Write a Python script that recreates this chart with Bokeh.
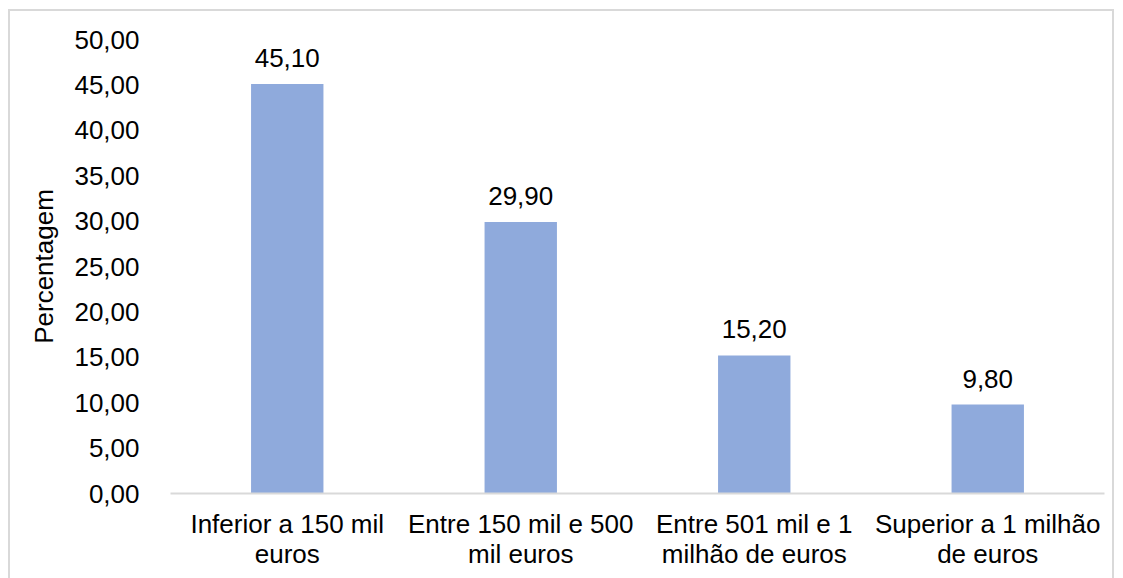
from bokeh.plotting import figure
from bokeh.models import ColumnDataSource, FixedTicker, LabelSet, Range1d
from bokeh.core.properties import value
from bokeh.embed import file_html
from bokeh.resources import INLINE

categories = ["Inferior a 150 mil\neuros", "Entre 150 mil e 500\nmil euros",
              "Entre 501 mil e 1\nmilhão de euros", "Superior a 1 milhão\nde euros"]
values = [45.10, 29.90, 15.20, 9.80]
y_ticks = [0, 5, 10, 15, 20, 25, 30, 35, 40, 45, 50]

def fmt(v):
    return f"{v:.2f}".replace(".", ",")

source = ColumnDataSource(data=dict(cat=categories, val=values, lbl=[fmt(v) for v in values]))

FONT = "Liberation Sans"
FS = "26px"

p = figure(x_range=categories, y_range=Range1d(0, 50), width=1106, height=575,
           output_backend="svg", toolbar_location=None,
           min_border_left=160, min_border_right=12, min_border_top=28, min_border_bottom=93)
p.margin = (9, 0, 0, 8)
p.styles = {"border": "2px solid #d9d9d9", "box-sizing": "border-box"}

p.vbar(x="cat", top="val", width=0.31, source=source, fill_color="#8FAADC", line_color=None)

labels = LabelSet(x="cat", y="val", text="lbl", source=source, text_align="center",
                  text_baseline="alphabetic", y_offset=17, text_font=value(FONT),
                  text_font_size=value(FS), text_color="#000000")
p.add_layout(labels)

p.xgrid.grid_line_color = None
p.ygrid.grid_line_color = None
p.outline_line_color = None

p.yaxis.ticker = FixedTicker(ticks=y_ticks)
p.yaxis.major_label_overrides = {t: fmt(t) for t in y_ticks}
p.yaxis.axis_line_color = None
p.yaxis.major_tick_line_color = None
p.yaxis.minor_tick_line_color = None
p.yaxis.major_label_standoff = 25
p.yaxis.major_label_text_font = FONT
p.yaxis.major_label_text_font_size = FS
p.yaxis.major_label_text_color = "#000000"
p.yaxis.axis_label = "Percentagem"
p.yaxis.axis_label_text_font = FONT
p.yaxis.axis_label_text_font_size = FS
p.yaxis.axis_label_text_font_style = "normal"
p.yaxis.axis_label_text_color = "#000000"
p.yaxis.axis_label_standoff = 12

p.xaxis.axis_line_color = "#d9d9d9"
p.xaxis.axis_line_width = 2
p.xaxis.major_tick_line_color = None
p.xaxis.minor_tick_line_color = None
p.xaxis.major_label_standoff = 9
p.xaxis.major_label_text_font = FONT
p.xaxis.major_label_text_font_size = FS
p.xaxis.major_label_text_color = "#000000"
p.xaxis.major_label_orientation = "horizontal"
p.xaxis.major_label_text_align = "center"
p.xaxis.major_label_text_baseline = "top"
p.xaxis.major_label_text_line_height = 1.0

open("out.html", "w").write(file_html(p, INLINE))
